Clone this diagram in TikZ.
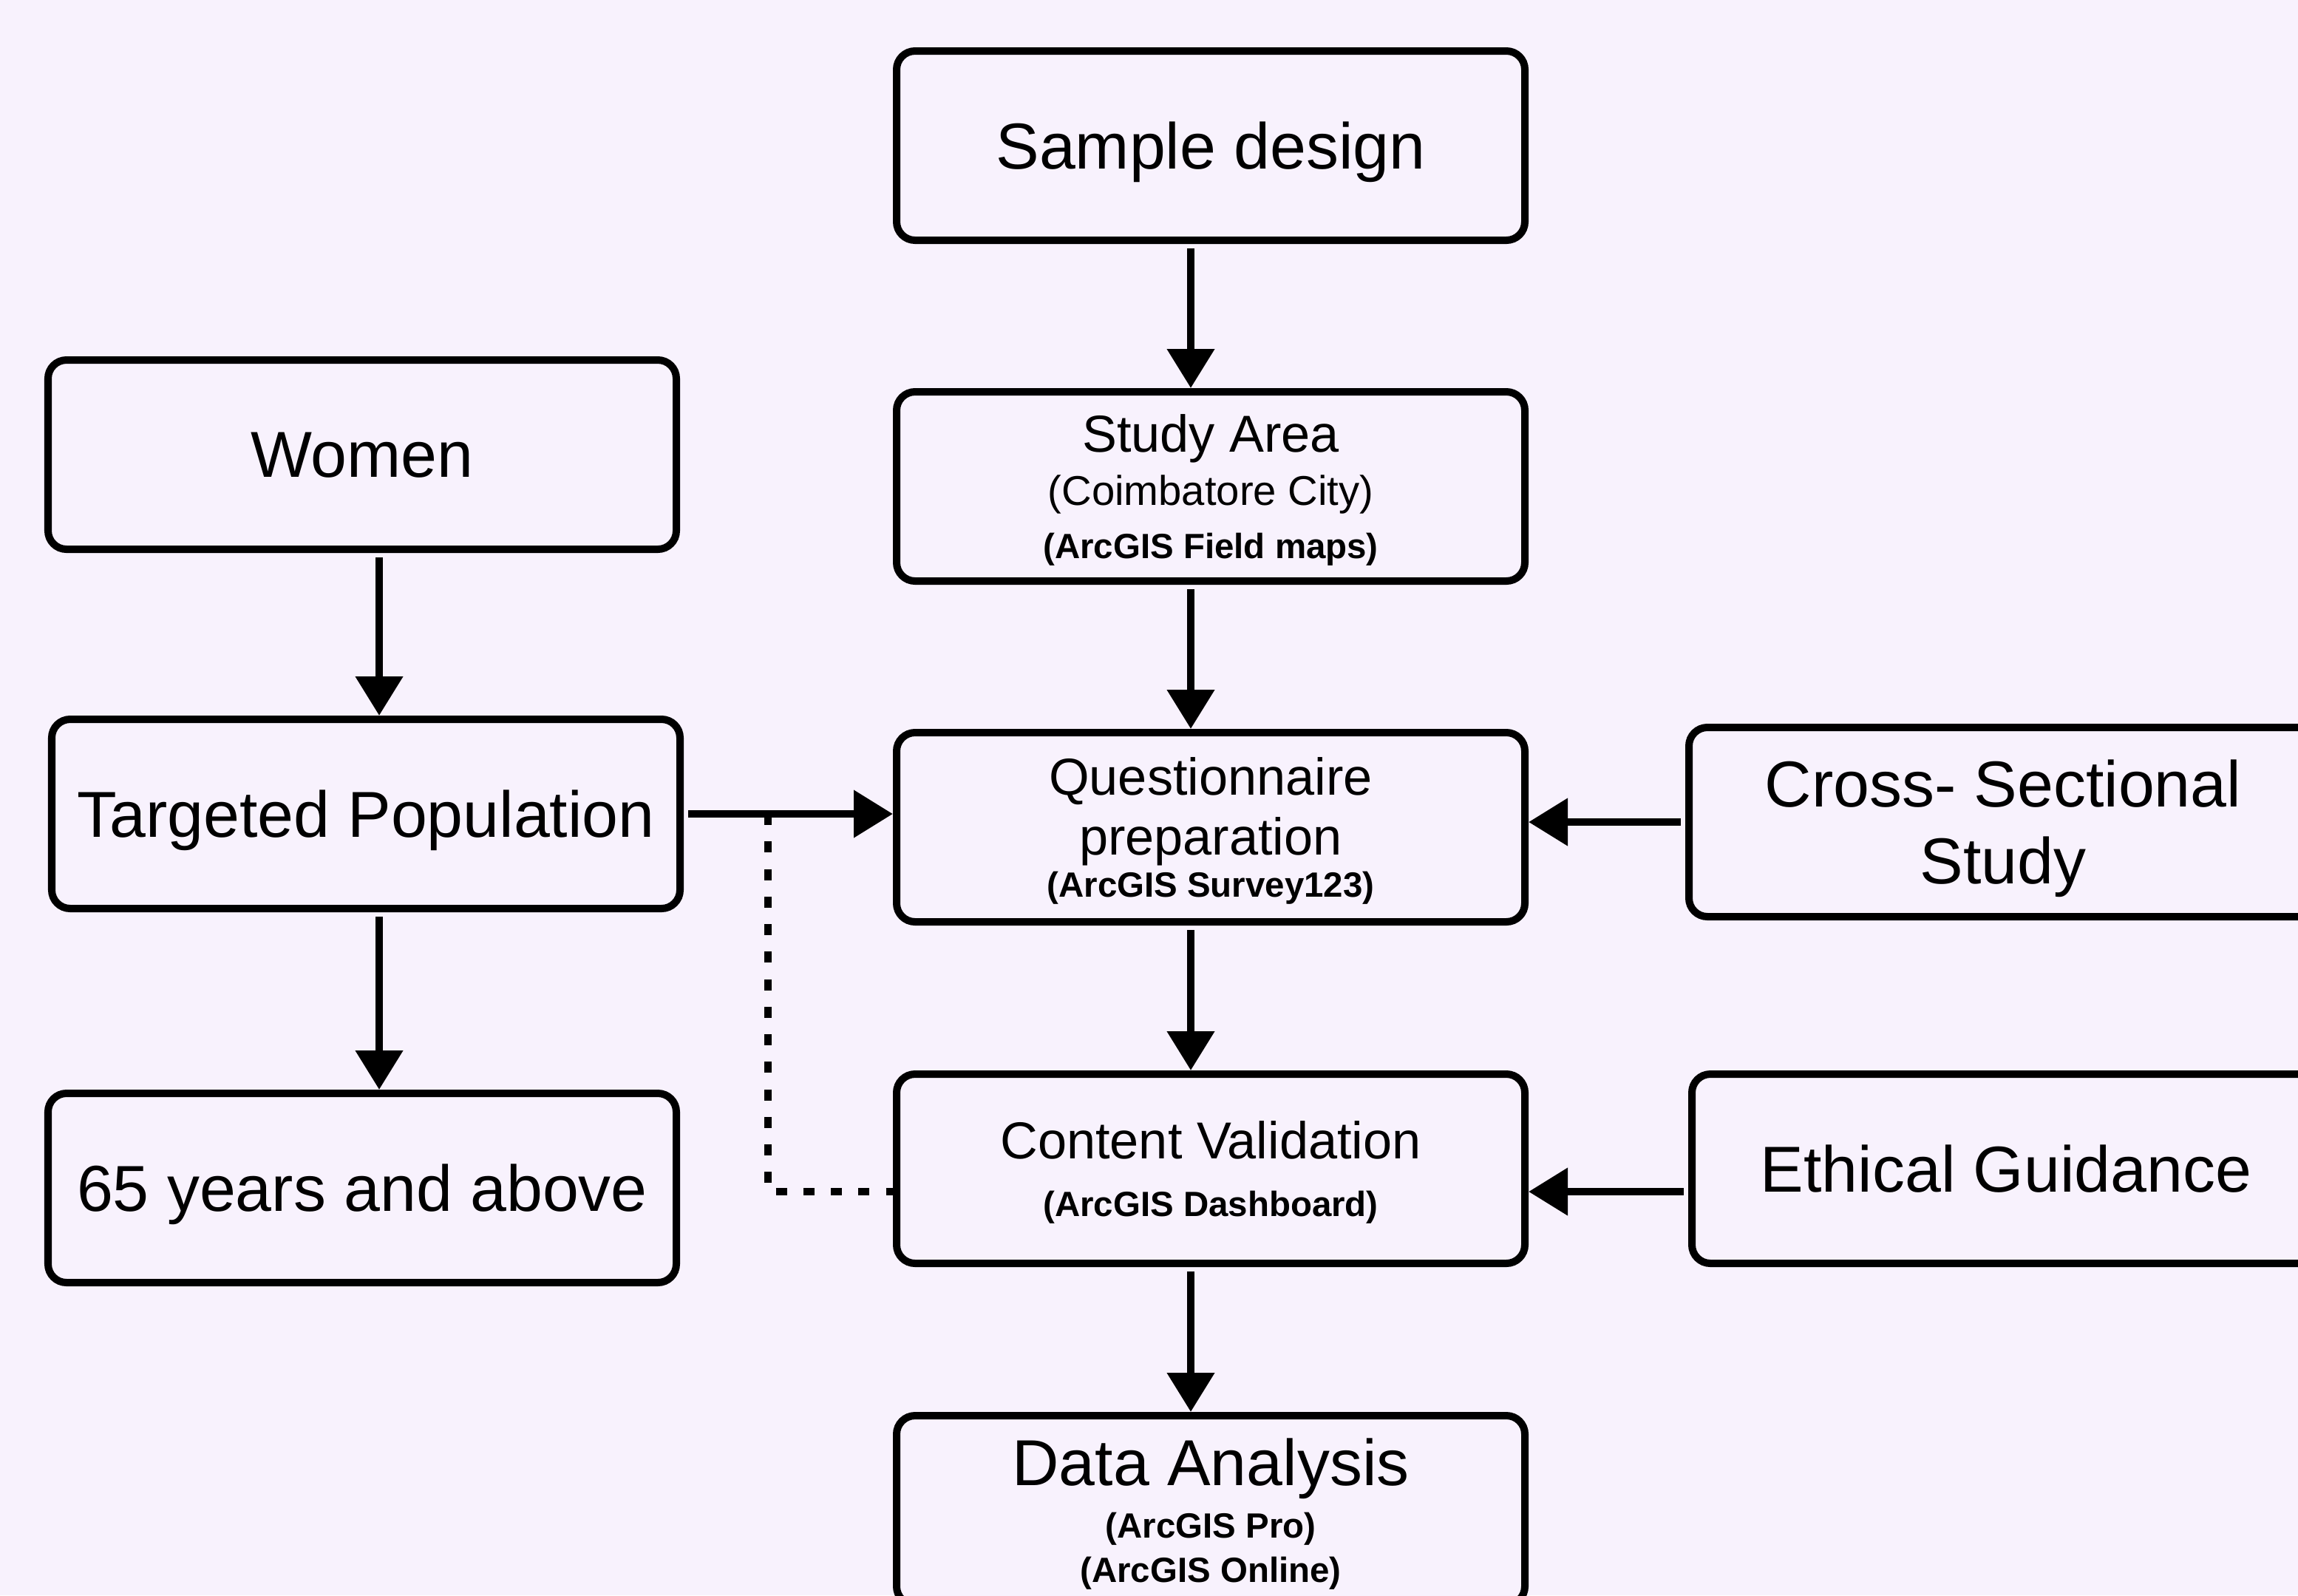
\documentclass[tikz,border=0pt]{standalone}
\usepackage{fontspec}
\setmainfont{Liberation Sans}
\usetikzlibrary{arrows.meta}
\definecolor{bgcol}{HTML}{F8F2FD}
\newcommand{\flowsub}{\fontsize{16}{19}\selectfont}
\newcommand{\flowtool}{\fontsize{13.5}{16}\selectfont\bfseries}
\tikzset{
  box/.style={draw, line width=2.85pt, rounded corners=2.5mm, fill=bgcol,
    minimum width=8.5cm, minimum height=2.56cm, inner sep=0pt, align=center,
    text depth=0pt},
  bigtext/.style={font=\fontsize{25}{#1}\selectfont},
  bigtext/.default=30,
  midtext/.style={font=\fontsize{20}{#1}\selectfont},
  midtext/.default=22,
  flow/.style={line width=3.1pt, -{Triangle[length=5.3mm,width=6.2mm]}, shorten <=0.6mm},
  dashline/.style={line width=3.1pt, dash pattern=on 4.3pt off 6.3pt}
}

\begin{document}
\begin{tikzpicture}
\useasboundingbox (0,0) rectangle (31.09,-21.58);
\fill[bgcol] (0,0) rectangle (31.09,-21.58);
% columns of the vertical arrows
\coordinate (lcol) at (5.13,0);
\coordinate (ccol) at (16.11,0);
\coordinate (dcol) at (10.39,0);
% middle column
\node[box, bigtext] (sample) at (16.38,-1.97) {Sample design};
\node[box, midtext=20.5] (study) at (16.38,-6.58)
  {Study Area\\{\flowsub (Coimbatore City)}\\{\flowtool (ArcGIS Field maps)}};
\node[box, midtext=22.8] (quest) at (16.38,-11.19)
  {Questionnaire\\preparation\\[-6.6pt]{\flowtool (ArcGIS Survey123)}};
\node[box, midtext=22.2] (content) at (16.38,-15.81)
  {Content Validation\\{\flowtool (ArcGIS Dashboard)}};
\node[box, bigtext=20.2] (analysis) at (16.38,-20.43)
  {Data Analysis\\{\flowtool (ArcGIS Pro)}\\[-3.2pt]{\flowtool (ArcGIS Online)}};
% left column
\node[box, bigtext] (women) at (4.90,-6.15) {Women};
\node[box, bigtext] (target) at (4.95,-11.01) {Targeted Population};
\node[box, bigtext] (elder) at (4.90,-16.07) {65 years and above};
% right column
\node[box, bigtext=29.6] (cross) at (27.10,-11.12) {Cross- Sectional\\Study};
\node[box, bigtext] (ethic) at (27.14,-15.81) {Ethical Guidance};
% straight arrows
\foreach \a/\b in {sample/study, study/quest, quest/content, content/analysis}
  \draw[flow] (\a.south -| ccol) -- (\b.north -| ccol);
\foreach \a/\b in {women/target, target/elder}
  \draw[flow] (\a.south -| lcol) -- (\b.north -| lcol);
\draw[flow] (target.east) -- (target.east -| quest.west);
\draw[flow] (cross.west) -- (cross.west -| quest.east);
\draw[flow] ([yshift=-3.1mm]ethic.west) -- ([yshift=-3.1mm]content.east);
% dashed link
\draw[dashline] (target.east -| dcol) |- ([yshift=-3.1mm]content.west);
\end{tikzpicture}
\end{document}
